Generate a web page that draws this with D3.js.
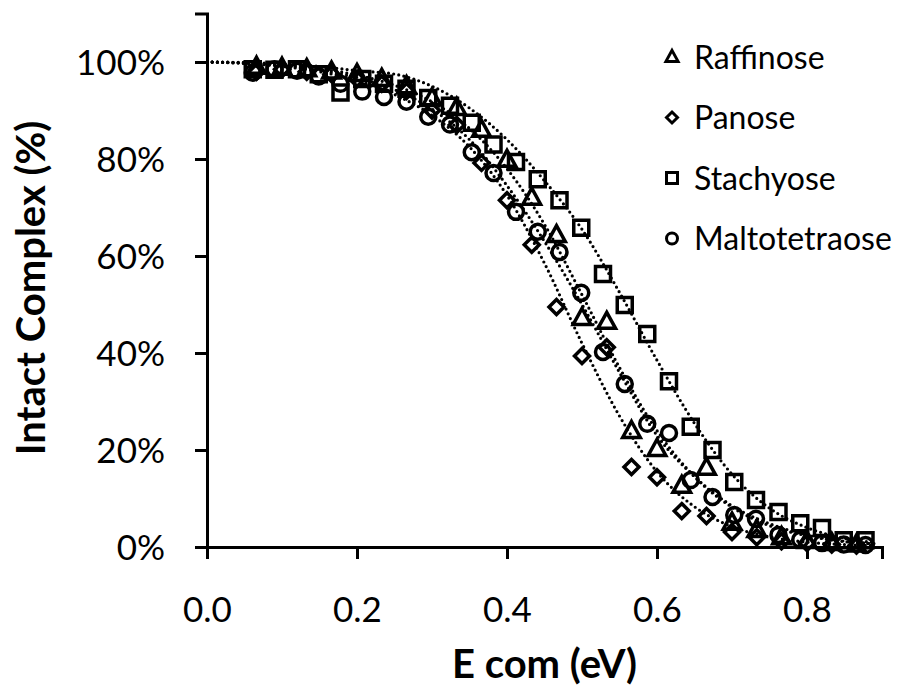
<!DOCTYPE html>
<html lang="en">
<head>
  <meta charset="utf-8">
  <title>Intact Complex vs E com</title>
  <script type="text/javascript" src="https://cdn.jsdelivr.net/npm/d3@7"></script>
  <style>
    body { margin: 0; background: #fff; }
    text { font-family: Lato, "Open Sans", sans-serif; fill: #000; }
  </style>
</head>
<body>
<script type="text/javascript">

  // x values (eV) - raffinose and panose share one energy grid, stachyose and maltotetraose another
  var raffPanX = [0.066, 0.100, 0.133, 0.166, 0.200, 0.233, 0.266, 0.300, 0.333, 0.366, 0.400, 0.433, 0.466,
    0.500, 0.533, 0.566, 0.600, 0.633, 0.666, 0.700, 0.733, 0.766, 0.800, 0.833, 0.866];
  var stachMaltoX = [0.061, 0.090, 0.120, 0.149, 0.178, 0.207, 0.236, 0.266, 0.295, 0.324, 0.353, 0.382, 0.412,
    0.441, 0.470, 0.499, 0.528, 0.557, 0.587, 0.616, 0.645, 0.674, 0.703, 0.732, 0.762, 0.791, 0.820, 0.849, 0.878];

  // intact complex (%)
  var raffinoseY = [99, 98.8, 98.5, 98, 97.5, 96.5, 95, 92.5, 90.5, 86, 79.8, 72, 64.3, 47.2, 46.4, 23.9, 20.2,
    12.6, 16.3, 5, 3.5, 2, 1.2, 0.8, 0.5];
  var panoseY = [98, 98.5, 98, 97.5, 96.5, 95.5, 94, 90, 87, 79.2, 71.5, 62.3, 49.5, 39.4, 41.2, 16.5, 14.4,
    7.4, 6.4, 3.1, 2, 1.2, 0.8, 0.5, 0.3];
  var stachyoseY = [98.5, 98.4, 98.5, 97.5, 93.7, 96.5, 95.5, 94.5, 92.6, 91, 87.5, 83, 79.4, 75.8, 71.5, 65.8,
    56.3, 49.9, 43.9, 34.2, 24.8, 20, 13.4, 9.7, 7.2, 4.9, 3.9, 1.4, 1.4];
  var maltotetraoseY = [97.8, 98.5, 98.2, 97, 95.5, 93.9, 92.8, 91.8, 88.7, 87.1, 81.4, 77.1, 69.1, 65, 60.8,
    52.4, 40.2, 33.6, 25.4, 23.5, 13.8, 10.3, 6.6, 5.8, 2.5, 1.5, 0.8, 0.5, 0.4];

  // fitted curves (dotted)
  var fitX = [0, 0.05, 0.1, 0.15, 0.2, 0.25, 0.3, 0.35, 0.4, 0.45, 0.5, 0.55, 0.6, 0.65, 0.7, 0.75, 0.8, 0.85, 0.89];
  var raffinoseFit = [100, 99.8, 99.4, 98.6, 97.3, 95.2, 91.8, 86.3, 78, 66.5, 52, 37, 24, 14.5, 8.2, 4.4, 2.3, 1.1, 0.6];
  var panoseFit = [100, 99.7, 99.1, 98, 96.2, 93.3, 89, 82.5, 72.5, 58.5, 42, 27, 15.5, 8.3, 4.2, 2.1, 1, 0.5, 0.3];
  var stachyoseFit = [100, 99.9, 99.6, 99.1, 98.2, 97.5, 95, 90.5, 84, 75.5, 65.5, 52.5, 38.5, 25.5, 15, 8, 4, 1.8, 0.9];
  var maltotetraoseFit = [100, 99.8, 99.3, 98.3, 96.8, 94.3, 90.3, 84, 74.5, 63, 50, 36, 23, 14.5, 8.5, 4.8, 2.5, 1.2, 0.7];

  var seriesNames = ["Raffinose", "Panose", "Stachyose", "Maltotetraose"];
  var xTicks = [0, 0.2, 0.4, 0.6, 0.8];
  var yTicks = [0, 0.2, 0.4, 0.6, 0.8, 1.0];

  var w = 910;
  var h = 687;

  var series = [
    { name: seriesNames[0], shape: "triangle", x: raffPanX, y: raffinoseY, fit: raffinoseFit },
    { name: seriesNames[1], shape: "diamond", x: raffPanX, y: panoseY, fit: panoseFit },
    { name: seriesNames[2], shape: "square", x: stachMaltoX, y: stachyoseY, fit: stachyoseFit },
    { name: seriesNames[3], shape: "circle", x: stachMaltoX, y: maltotetraoseY, fit: maltotetraoseFit }
  ];

  var xScale = d3.scaleLinear().domain([0, 0.9]).range([207, 882]);
  var yScale = d3.scaleLinear().domain([0, 1.1]).range([547, 13.5]);

  var svg = d3.select("body").append("svg")
    .attr("width", w)
    .attr("height", h);

  // marker path for a given shape, centred on 0,0
  function markerPath(shape, s) {
    if (shape == "triangle") {
      return "M0," + (-s * 0.6) + "L" + (s * 0.55) + "," + (s * 0.4) + "L" + (-s * 0.55) + "," + (s * 0.4) + "Z";
    } else if (shape == "diamond") {
      return "M0," + (-s * 0.5) + "L" + (s * 0.5) + ",0L0," + (s * 0.5) + "L" + (-s * 0.5) + ",0Z";
    } else if (shape == "square") {
      return "M" + (-s / 2) + "," + (-s / 2) + "h" + s + "v" + s + "h" + (-s) + "Z";
    }
    var r = s / 2;
    return "M" + r + ",0A" + r + "," + r + " 0 1,1 " + (-r) + ",0A" + r + "," + r + " 0 1,1 " + r + ",0Z";
  }

  var markerSize = { triangle: 16, diamond: 15, square: 15, circle: 15 };

  // markers
  series.forEach(function (s) {
    svg.append("g")
      .selectAll("path")
      .data(s.y)
      .enter()
      .append("path")
      .attr("transform", function (d, i) {
        return "translate(" + xScale(s.x[i]) + "," + yScale(d / 100) + ")";
      })
      .attr("d", markerPath(s.shape, markerSize[s.shape]))
      .attr("fill", "none")
      .attr("stroke", "#000")
      .attr("stroke-width", 3.5)
      .attr("stroke-linejoin", "miter");
  });

  // dotted fit curves
  var line = d3.line()
    .x(function (d, i) { return xScale(fitX[i]); })
    .y(function (d) { return yScale(d / 100); })
    .curve(d3.curveMonotoneX);

  series.forEach(function (s) {
    svg.append("path")
      .attr("d", line(s.fit))
      .attr("fill", "none")
      .attr("stroke", "#000")
      .attr("stroke-width", 3.2)
      .attr("stroke-linecap", "round")
      .attr("stroke-dasharray", "0 5.2");
  });

  // axes
  var xAxis = d3.axisBottom(xScale)
    .tickValues(xTicks)
    .tickSize(12)
    .tickPadding(38)
    .tickFormat(d3.format(".1f"));

  var yAxis = d3.axisLeft(yScale)
    .tickValues(yTicks)
    .tickSize(12)
    .tickPadding(30)
    .tickFormat(d3.format(".0%"));

  var gx = svg.append("g")
    .attr("transform", "translate(0," + yScale(0) + ")")
    .call(xAxis);

  var gy = svg.append("g")
    .attr("transform", "translate(" + xScale(0) + ",0)")
    .call(yAxis);

  [gx, gy].forEach(function (g) {
    g.select(".domain").attr("stroke-width", 3).attr("stroke", "#000");
    g.selectAll(".tick line").attr("stroke-width", 3).attr("stroke", "#000");
    g.selectAll(".tick text")
      .attr("font-family", "Lato, sans-serif")
      .attr("font-size", "35px")
      .attr("fill", "#000");
  });
  gy.selectAll(".tick text").attr("dy", "0.36em");

  // axis titles
  svg.append("text")
    .attr("x", (xScale(0) + xScale(0.9)) / 2)
    .attr("y", 678)
    .attr("text-anchor", "middle")
    .attr("font-size", "40px")
    .attr("font-weight", "bold")
    .text("E com (eV)");

  svg.append("text")
    .attr("transform", "translate(45," + 288 + ") rotate(-90)")
    .attr("text-anchor", "middle")
    .attr("font-size", "40px")
    .attr("font-weight", "bold")
    .text("Intact Complex (%)");

  // legend
  var legend = svg.append("g")
    .selectAll("g")
    .data(series)
    .enter()
    .append("g")
    .attr("transform", function (d, i) {
      return "translate(672," + (57 + i * 60.5) + ")";
    });

  legend.append("path")
    .attr("d", function (d) { return markerPath(d.shape, 11); })
    .attr("fill", "none")
    .attr("stroke", "#000")
    .attr("stroke-width", 3);

  legend.append("text")
    .attr("x", 22)
    .attr("dy", "0.36em")
    .attr("font-size", "32px")
    .text(function (d) { return d.name; });

</script>
</body>
</html>
